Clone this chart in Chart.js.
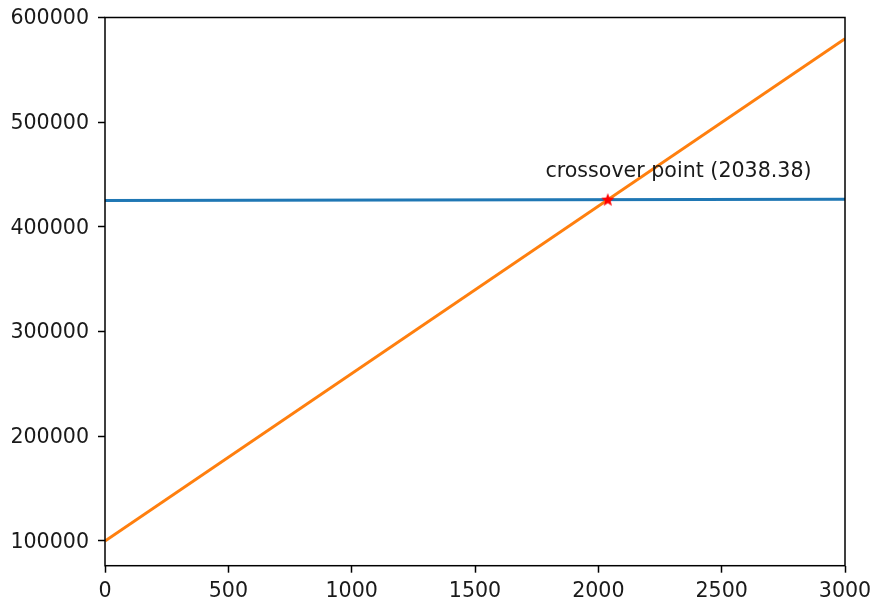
<!DOCTYPE html>
<html>
<head>
<meta charset="utf-8">
<script src="https://cdn.jsdelivr.net/npm/chart.js@4"></script>
<style>
  body { margin: 0; background: #fff; }
  #chart { display: block; }
</style>
</head>
<body>
<canvas id="chart" width="873" height="605"></canvas>
<script>
// data
const xValues = [0, 3000];
const fixedLine = [425300, 426500];
const slopeLine = [100000, 579800];
const crossX = [2038.38];
const crossY = [426050];
const crossLabel = 'crossover point (2038.38)';
const labelPos = [2325, 452700];
const xTicks = [0, 500, 1000, 1500, 2000, 2500, 3000];
const yTicks = [100000, 200000, 300000, 400000, 500000, 600000];

const FONT = { family: 'DejaVu Sans', size: 20.6 };

// filled red star for the crossover marker
function makeStar(size, color) {
    const c = document.createElement('canvas');
    c.width = size; c.height = size;
    const g = c.getContext('2d');
    const cx = size / 2, cy = size / 2 + 0.5, R = size / 2, r = R * 0.42;
    g.beginPath();
    for (let i = 0; i < 10; i++) {
        const rad = i % 2 === 0 ? R : r;
        const a = -Math.PI / 2 + i * Math.PI / 5;
        g.lineTo(cx + rad * Math.cos(a), cy + rad * Math.sin(a));
    }
    g.closePath();
    g.fillStyle = color;
    g.fill();
    return c;
}

const boxPlugin = {
    id: 'box',
    afterDraw(chart) {
        const { ctx, chartArea: a, scales } = chart;
        ctx.save();
        ctx.strokeStyle = '#000';
        ctx.lineWidth = 1.5;
        ctx.strokeRect(a.left, a.top, a.right - a.left, a.bottom - a.top);
        ctx.fillStyle = '#1a1a1a';
        ctx.font = '20.6px "DejaVu Sans"';
        ctx.textAlign = 'center';
        ctx.textBaseline = 'middle';
        ctx.fillText(crossLabel, scales.x.getPixelForValue(labelPos[0]), scales.y.getPixelForValue(labelPos[1]));
        ctx.restore();
    }
};

function pts(xs, ys) {
    return xs.map((x, i) => ({ x: x, y: ys[i] }));
}

new Chart(document.getElementById('chart').getContext('2d'), {
    type: 'scatter',
    data: {
        datasets: [
            {
                data: pts(xValues, fixedLine),
                showLine: true,
                borderColor: '#1f77b4',
                borderWidth: 3,
                pointRadius: 0,
                order: 3
            },
            {
                data: pts(xValues, slopeLine),
                showLine: true,
                borderColor: '#ff7f0e',
                borderWidth: 3,
                pointRadius: 0,
                order: 2
            },
            {
                data: pts(crossX, crossY),
                pointStyle: makeStar(14, '#ff0000'),
                pointRadius: 7,
                order: 1
            }
        ]
    },
    options: {
        responsive: false,
        animation: false,
        layout: { padding: { top: 17.5, right: 28, left: 0, bottom: 0 } },
        plugins: { legend: { display: false }, tooltip: { enabled: false } },
        scales: {
            x: {
                min: 0,
                max: 3000,
                afterFit(s) { s.height = 39.3; s.paddingLeft = 0; s.paddingRight = 0; },
                afterBuildTicks(s) { s.ticks = xTicks.map(v => ({ value: v })); },
                border: { display: false },
                grid: { drawOnChartArea: false, tickLength: 7, tickWidth: 1.5, tickColor: '#000' },
                ticks: { font: FONT, color: '#1a1a1a', padding: 7, maxRotation: 0, callback: v => String(v) }
            },
            y: {
                min: 76400,
                max: 600000,
                afterFit(s) { s.width = 105; s.paddingTop = 0; s.paddingBottom = 0; },
                afterBuildTicks(s) { s.ticks = yTicks.map(v => ({ value: v })); },
                border: { display: false },
                grid: { drawOnChartArea: false, tickLength: 7, tickWidth: 1.5, tickColor: '#000' },
                ticks: { font: FONT, color: '#1a1a1a', padding: 9, labelOffset: 1.5, callback: v => String(v) }
            }
        }
    },
    plugins: [boxPlugin]
});
</script>
</body>
</html>
